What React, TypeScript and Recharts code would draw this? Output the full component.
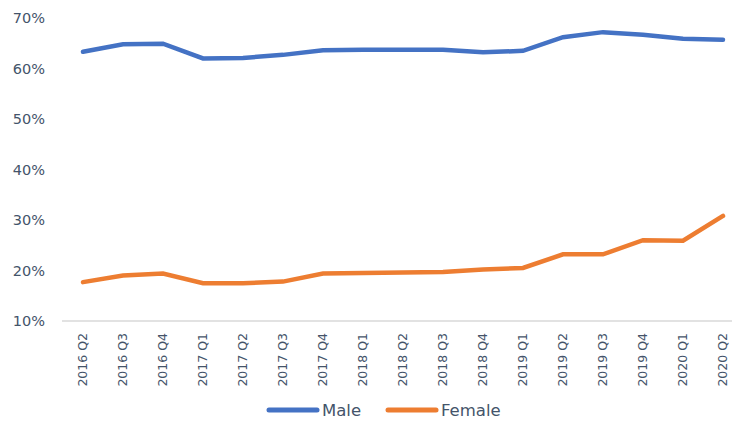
import React from 'react';
import { LineChart, Line, XAxis, YAxis, Legend } from 'recharts';

const categories = ['2016 Q2','2016 Q3','2016 Q4','2017 Q1','2017 Q2','2017 Q3','2017 Q4','2018 Q1','2018 Q2','2018 Q3','2018 Q4','2019 Q1','2019 Q2','2019 Q3','2019 Q4','2020 Q1','2020 Q2'];
const maleValues = [63.3, 64.8, 64.9, 62.0, 62.1, 62.7, 63.6, 63.7, 63.7, 63.7, 63.2, 63.5, 66.2, 67.2, 66.7, 65.9, 65.7];
const femaleValues = [17.7, 19.0, 19.4, 17.5, 17.5, 17.8, 19.4, 19.5, 19.6, 19.7, 20.2, 20.5, 23.2, 23.2, 26.0, 25.9, 30.8];
const yTicks = [10, 20, 30, 40, 50, 60, 70];

const data = categories.map((c, i) => ({ cat: c, Male: maleValues[i], Female: femaleValues[i] }));

const FONT = '"DejaVu Sans", sans-serif';
const TEXT = '#44546A';

const XTick = (props: any) => {
  const { x, y, payload } = props;
  return (
    <text
      x={x}
      y={y}
      dy="0.35em"
      transform={`rotate(-90, ${x}, ${y})`}
      textAnchor="end"
      fill={TEXT}
      fontSize={12.5}
      fontFamily={FONT}
    >
      {payload.value}
    </text>
  );
};

const LegendContent = () => (
  <svg width={732} height={24} style={{ display: 'block' }}>
    <line x1={269} y1={12} x2={317} y2={12} stroke="#4472C4" strokeWidth={5} strokeLinecap="round" />
    <text x={322} y={12} dy="0.35em" fill={TEXT} fontSize={16.5} fontFamily={FONT}>Male</text>
    <line x1={388} y1={12} x2={436} y2={12} stroke="#ED7D31" strokeWidth={5} strokeLinecap="round" />
    <text x={441} y={12} dy="0.35em" fill={TEXT} fontSize={16.5} fontFamily={FONT}>Female</text>
  </svg>
);

export default function App() {
  return (
    <div style={{ position: 'absolute', left: 0, top: 0, width: 732, height: 422, background: '#fff' }}>
      <LineChart width={732} height={422} data={data} margin={{ top: 18, right: 0, bottom: 0, left: 0 }}>
        <XAxis
          dataKey="cat"
          interval={0}
          tick={<XTick />}
          tickLine={false}
          tickSize={0}
          tickMargin={12}
          height={77}
          padding={{ left: 21, right: 9 }}
          axisLine={{ stroke: '#D9D9D9', strokeWidth: 1.5 }}
        />
        <YAxis
          domain={[10, 70]}
          ticks={yTicks}
          interval={0}
          width={62}
          axisLine={false}
          tickLine={false}
          tickSize={0}
          tickMargin={17}
          tickFormatter={(v: number) => `${v}%`}
          tick={{ fill: TEXT, fontSize: 14.5, fontFamily: FONT }}
        />
        <Legend verticalAlign="bottom" content={<LegendContent />} wrapperStyle={{ left: 0, bottom: 0, width: 732, height: 24 }} />
        <Line type="linear" dataKey="Male" stroke="#4472C4" strokeWidth={4.5} dot={false} strokeLinecap="round" isAnimationActive={false} />
        <Line type="linear" dataKey="Female" stroke="#ED7D31" strokeWidth={4.5} dot={false} strokeLinecap="round" isAnimationActive={false} />
      </LineChart>
    </div>
  );
}
